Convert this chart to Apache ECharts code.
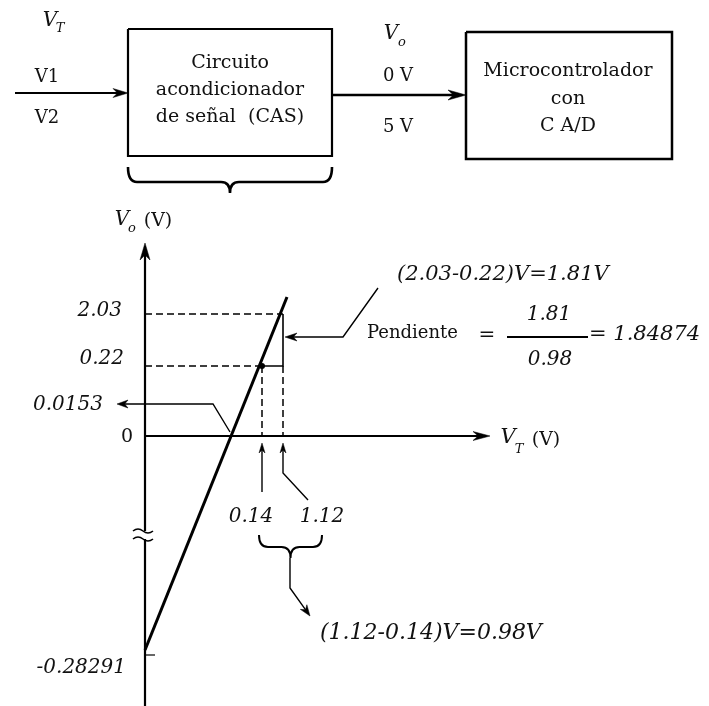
<!DOCTYPE html>
<html><head><meta charset="utf-8">
<script src="https://cdn.jsdelivr.net/npm/echarts@6/dist/echarts.min.js"></script>
<style>html,body{margin:0;padding:0;background:#fff}#c{width:709px;height:706px}</style>
</head><body><div id="c"></div>
<script>
// ---------------- figure values ----------------
const yTickLabels  = ['2.03', '0.22', '0.0153', '0', '-0.28291'];
const yTickPos     = [314, 366, 404, 436, 650];      // schematic positions (figure is not to scale)
const xTickLabels  = ['0.14', '1.12'];
const xTickPos     = [262, 283];
const transferLine = [[145, 650], [287, 297]];       // V_T -> V_o line, schematic coords
const inputLevels  = ['V1', 'V2'];
const outputLevels = ['0 V', '5 V'];
const casLines     = ['Circuito', 'acondicionador', 'de señal  (CAS)'];
const mcuLines     = ['Microcontrolador', 'con', 'C A/D'];
const deltaVText   = '(2.03-0.22)V=1.81V';
const deltaTText   = '(1.12-0.14)V=0.98V';
const slopeNum     = '1.81';
const slopeDen     = '0.98';
const slopeVal     = '1.84874';

// ---------------- layout / style ----------------
const W = 709, H = 706;
const SERIF = '"DejaVu Serif", "Liberation Serif", serif';
const IT = s => 'italic ' + s + 'px ' + SERIF;
const RG = s => s + 'px ' + SERIF;
const shapes = [];
function poly(pts, o) { shapes.push(Object.assign({kind: 'poly', pts: pts, w: 1.5}, o || {})); }
function text(x, y, t, font, align) { shapes.push({kind: 'text', pts: [[x, y]], t: t, font: font, align: align || 'center'}); }
function brace(x1, x2, y0, ym, yt, w) { shapes.push({kind: 'brace', pts: [[x1, y0], [x2, ym], [(x1 + x2) / 2, yt]], w: w}); }

// top block diagram
poly([[128, 29], [332, 29], [332, 156], [128, 156], [128, 29]], {w: 2.2});
poly([[466, 32], [672, 32], [672, 159], [466, 159], [466, 32]], {w: 2.5});
poly([[15, 93], [128, 93]], {w: 2.2, arrow: [15, 4.5]});
poly([[332, 95], [466, 95]], {w: 2.5, arrow: [18, 5]});
brace(128, 332, 167, 182, 193, 2.6);
text(50, 21, 'V', IT(20)); text(60, 29, 'T', IT(13));
text(47, 77, inputLevels[0], RG(18)); text(47, 118, inputLevels[1], RG(18));
[63, 90, 117].forEach((y, i) => text(230, y, casLines[i], RG(19)));
text(391, 34, 'V', IT(20)); text(402, 43, 'o', IT(13));
text(398, 76, outputLevels[0], RG(18)); text(398, 127, outputLevels[1], RG(18));
[71, 99, 126].forEach((y, i) => text(568, y, mcuLines[i], RG(19)));

// graph axes
poly([[145, 706], [145, 243]], {w: 2.2, arrow: [17, 5]});
shapes.push({kind: 'break', pts: [[145, 535]]});
poly([[145, 436], [490, 436]], {w: 2, arrow: [17, 4.5]});
// reference lines
const dash = [7, 4];
poly([[145, yTickPos[0]], [xTickPos[1], yTickPos[0]]], {w: 1.5, dash: dash});
poly([[145, yTickPos[1]], [xTickPos[0], yTickPos[1]]], {w: 1.5, dash: dash});
poly([[xTickPos[0], yTickPos[1]], [xTickPos[0], yTickPos[3]]], {w: 1.5, dash: dash});
poly([[xTickPos[1], yTickPos[1]], [xTickPos[1], yTickPos[3]]], {w: 1.5, dash: dash});
poly([[xTickPos[0], yTickPos[1]], [xTickPos[1], yTickPos[1]], [xTickPos[1], yTickPos[0]]], {w: 1.6});
shapes.push({kind: 'dot', pts: [[xTickPos[0], yTickPos[1]]]});
poly([[145, 655], [155, 655]], {w: 1.2});
// leaders
poly([[378, 288], [343, 337], [285, 337]], {w: 1.4, arrow: [12, 4]});
poly([[230, 432], [213, 404], [117, 404]], {w: 1.4, arrow: [11, 4]});
poly([[262, 492], [262, 443]], {w: 1.4, arrow: [10, 3]});
poly([[308, 500], [283, 473], [283, 443]], {w: 1.4, arrow: [10, 3]});
brace(259, 322, 535, 547, 558, 2);
poly([[290, 558], [290, 588], [310, 616]], {w: 1.4, arrow: [11, 4]});

// texts of the graph
const yLabelRight = [122, 124, 103, 133, 126];
const yLabelY = [311, 359, 405, 437, 668];
yTickLabels.forEach((t, i) => text(yLabelRight[i], yLabelY[i], t, t === '0' ? RG(19) : IT(20), 'right'));
[251, 322].forEach((x, i) => text(x, 517, xTickLabels[i], IT(20)));
text(122, 220, 'V', IT(20)); text(132, 229, 'o', IT(13)); text(158, 221, '(V)', RG(19));
text(508, 438, 'V', IT(21)); text(519, 450, 'T', IT(13)); text(546, 440, '(V)', RG(19));
text(397, 275, deltaVText, IT(21), 'left');
text(367, 333, 'Pendiente', RG(18), 'left');
text(487, 336, '=', RG(20));
text(549, 315, slopeNum, IT(20));
poly([[507, 337], [588, 337]], {w: 1.8});
text(550, 360, slopeDen, IT(20));
text(589, 335, '= ' + slopeVal, IT(21), 'left');
text(320, 633, deltaTText, IT(22), 'left');

// ---------------- render ----------------
function arrowHead(P, Q, len, half) {
  const dx = P[0] - Q[0], dy = P[1] - Q[1], L = Math.hypot(dx, dy) || 1;
  const ux = dx / L, uy = dy / L, nx = -uy, ny = ux;
  const bx = P[0] - ux * len, by = P[1] - uy * len;
  return {
    head: [P, [bx + nx * half, by + ny * half], [P[0] - ux * len * 0.7, P[1] - uy * len * 0.7], [bx - nx * half, by - ny * half]],
    stop: [P[0] - ux * len * 0.6, P[1] - uy * len * 0.6]
  };
}

function renderItem(params, api) {
  const s = shapes[params.dataIndex];
  const pts = s.pts.map(p => api.coord(p));
  if (s.kind === 'poly') {
    const children = [];
    let line = pts.slice();
    if (s.arrow) {
      const a = arrowHead(pts[pts.length - 1], pts[pts.length - 2], s.arrow[0], s.arrow[1]);
      line[line.length - 1] = a.stop;
      children.push({type: 'polygon', shape: {points: a.head}, style: {fill: '#000', stroke: '#000', lineWidth: 0.5}});
    }
    children.unshift({type: 'polyline', shape: {points: line},
      style: {stroke: '#000', lineWidth: s.w, fill: 'none', lineDash: s.dash || null}});
    return {type: 'group', children: children};
  }
  if (s.kind === 'text') {
    return {type: 'text', style: {x: pts[0][0], y: pts[0][1], text: s.t, font: s.font, fill: '#111',
      align: s.align, verticalAlign: 'middle'}};
  }
  if (s.kind === 'dot') {
    return {type: 'circle', shape: {cx: pts[0][0], cy: pts[0][1], r: 3}, style: {fill: '#000'}};
  }
  if (s.kind === 'brace') {
    const x1 = pts[0][0], y0 = pts[0][1], x2 = pts[1][0], ym = pts[1][1], xm = pts[2][0], yt = pts[2][1], r = 9;
    const d = 'M' + x1 + ',' + y0 + ' Q' + x1 + ',' + ym + ' ' + (x1 + r) + ',' + ym +
      ' L' + (xm - r) + ',' + ym + ' Q' + xm + ',' + ym + ' ' + xm + ',' + yt +
      ' Q' + xm + ',' + ym + ' ' + (xm + r) + ',' + ym +
      ' L' + (x2 - r) + ',' + ym + ' Q' + x2 + ',' + ym + ' ' + x2 + ',' + y0;
    return {type: 'path', shape: {pathData: d}, style: {stroke: '#000', lineWidth: s.w, fill: 'none'}};
  }
  if (s.kind === 'break') {
    const cx = pts[0][0], cy = pts[0][1];
    const wave = y => 'M' + (cx - 12) + ',' + y + ' q5,-4 10,0 t10,0';
    return {type: 'group', children: [
      {type: 'rect', shape: {x: cx - 4, y: cy - 4, width: 8, height: 8}, style: {fill: '#fff'}},
      {type: 'path', shape: {pathData: wave(cy - 4) + ' ' + wave(cy + 4)}, style: {stroke: '#000', lineWidth: 1.6, fill: 'none'}}
    ]};
  }
  return null;
}

const chart = echarts.init(document.getElementById('c'), null, {renderer: 'canvas'});
chart.setOption({
  animation: false,
  backgroundColor: '#fff',
  grid: {left: 0, right: 0, top: 0, bottom: 0, containLabel: false},
  xAxis: {type: 'value', min: 0, max: W, show: false},
  yAxis: {type: 'value', min: 0, max: H, inverse: true, show: false},
  series: [
    {type: 'custom', clip: false, silent: true, renderItem: renderItem,
      encode: {x: 0, y: 1}, data: shapes.map((s, i) => [s.pts[0][0], s.pts[0][1], i]), z: 2},
    {type: 'line', data: transferLine, showSymbol: false, silent: true, z: 3,
      lineStyle: {color: '#000', width: 3}}
  ]
});
</script></body></html>
